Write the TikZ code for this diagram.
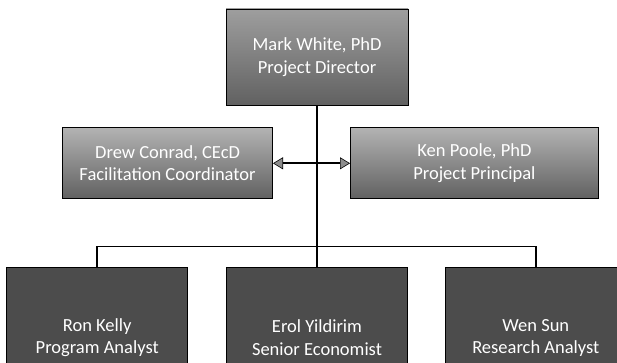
\documentclass[tikz,border=0pt]{standalone}
\usepackage{fontspec}
\setmainfont{Carlito}
\usepackage{xcolor}
\usetikzlibrary{arrows.meta, positioning}

\begin{document}
\begin{tikzpicture}[
    node distance=22pt and 38pt,
    every node/.style={font=\fontsize{18.5}{22.5}\selectfont, text=white},
    role/.style={
        rectangle, draw=black, line width=0.8pt,
        align=center, inner sep=0pt
    },
    leadbox/.style={
        role, top color=black!38, bottom color=black!62,
        minimum width=182pt, minimum height=96pt
    },
    midbox/.style={
        role, top color=black!30, bottom color=black!62,
        minimum height=71pt
    },
    staffbox/.style={
        role, fill=black!70,
        minimum width=181pt, minimum height=140pt
    },
    arrow/.style={
        >={Triangle[length=10pt, width=12pt, line width=0.6pt, fill=black!45]},
        <->, line width=1.6pt
    },
    link/.style={line width=1.6pt}
]
\path[use as bounding box, clip] (0,0) rectangle (617pt,-363pt);

% Row 1
\node[leadbox] (director) at (317pt,-57pt) {
    Mark White, PhD\\
    Project Director
};

% Row 2
\node[midbox, minimum width=210pt, below left=22pt and 44pt of director.south] (coordinator) {
    Drew Conrad, CEcD\\
    Facilitation Coordinator
};
\node[midbox, minimum width=248pt, below right=22pt and 33pt of director.south] (principal) {
    Ken Poole, PhD\\
    Project Principal
};

% Row 3
\node[staffbox, below=162pt of director.south] (economist) {
    Erol Yildirim\\
    Senior Economist
};
\node[staffbox, left=of economist] (analyst) {
    Ron Kelly\\
    Program Analyst
};
\node[staffbox, right=37pt of economist] (research) {
    Wen Sun\\
    Research Analyst
};
\coordinate[above=21pt of economist.north] (bus);

% Connectors
\draw[link]  (director) -- (economist);
\draw[link]  (analyst) |- (bus) -| (research);
\draw[arrow] (coordinator) -- (principal);

\end{tikzpicture}
\end{document}
